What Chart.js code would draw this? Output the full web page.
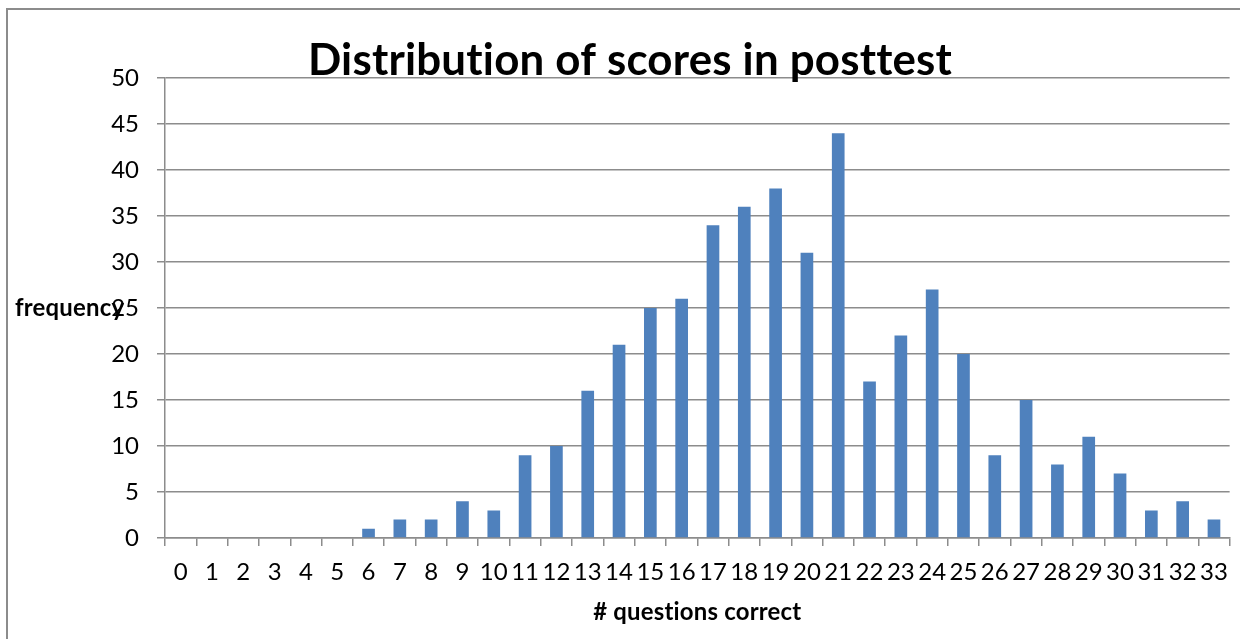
<!DOCTYPE html>
<html>
<head>
<meta charset="utf-8">
<script src="https://cdn.jsdelivr.net/npm/chart.js@4"></script>
<style>
html,body{margin:0;padding:0;background:#fff;}
#wrap{width:1240px;height:639px;position:relative;}
</style>
</head>
<body>
<div id="wrap"><canvas id="c" width="1240" height="639"></canvas></div>
<script>
const categories = ['0','1','2','3','4','5','6','7','8','9','10','11','12','13','14','15','16','17','18','19','20','21','22','23','24','25','26','27','28','29','30','31','32','33'];
const frequency = [0,0,0,0,0,0,1,2,2,4,3,9,10,16,21,25,26,34,36,38,31,44,17,22,27,20,9,15,8,11,7,3,4,2];
const chartTitle = 'Distribution of scores in posttest';
const xTitle = '# questions correct';
const yTitle = 'frequency';

const FONT = 'Lato, "Open Sans", sans-serif';
const GRID = '#8c8c8c';

const decor = {
  id: 'decor',
  afterDraw(chart) {
    const ctx = chart.ctx;
    const area = chart.chartArea;
    ctx.save();
    ctx.strokeStyle = '#8c8c8c';
    ctx.lineWidth = 2;
    ctx.strokeRect(7, 9, 1400, 800);
    ctx.fillStyle = '#000';
    try { ctx.letterSpacing = '0.2px'; } catch (e) {}
    let size = 40;
    ctx.font = 'bold ' + size + 'px ' + FONT;
    const w = ctx.measureText(chartTitle).width;
    size = size * 645 / w;
    ctx.font = 'bold ' + size + 'px ' + FONT;
    ctx.textAlign = 'center';
    ctx.textBaseline = 'alphabetic';
    ctx.fillText(chartTitle, 630, 75);
    let s2 = 20;
    ctx.font = 'bold ' + s2 + 'px ' + FONT;
    s2 = s2 * 209 / ctx.measureText(xTitle).width;
    ctx.font = 'bold ' + s2 + 'px ' + FONT;
    ctx.fillText(xTitle, (area.left + area.right) / 2, 620);
    ctx.textAlign = 'left';
    ctx.fillText(yTitle, 15, 316);
    ctx.restore();
  }
};

new Chart(document.getElementById('c'), {
  type: 'bar',
  data: {
    labels: categories,
    datasets: [{
      data: frequency,
      backgroundColor: '#4f81bd',
      borderWidth: 0,
      categoryPercentage: 1,
      barPercentage: 0.405
    }]
  },
  options: {
    responsive: false,
    animation: false,
    events: [],
    layout: { padding: { top: 78, right: 7, left: 0, bottom: 0 } },
    plugins: { legend: { display: false }, title: { display: false }, tooltip: { enabled: false } },
    scales: {
      x: {
        offset: true,
        afterFit(scale) { scale.height = 101; },
        grid: { offset: true, drawOnChartArea: false, drawTicks: true, tickLength: 8, color: GRID, lineWidth: 1.5 },
        border: { color: GRID, width: 1.5 },
        ticks: { color: '#000', font: { family: FONT, size: 24 }, padding: 12, maxRotation: 0, autoSkip: false }
      },
      y: {
        min: 0, max: 50,
        afterFit(scale) { scale.width = 165; },
        grid: { drawTicks: true, tickLength: 8, color: GRID, lineWidth: 1.5 },
        border: { color: GRID, width: 1.5 },
        ticks: { stepSize: 5, color: '#000', font: { family: FONT, size: 24 }, padding: 18 }
      }
    }
  },
  plugins: [decor]
});
</script>
</body>
</html>
